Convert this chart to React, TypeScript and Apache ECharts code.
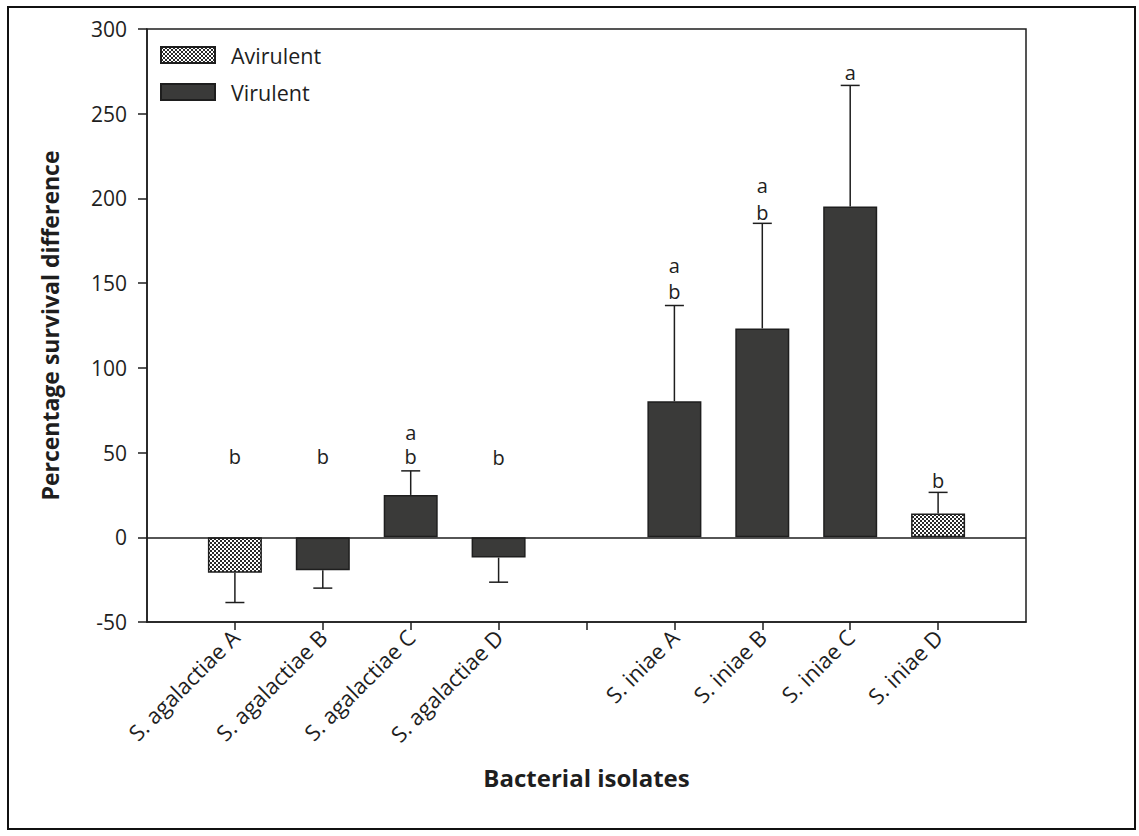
import React, { useEffect, useRef } from "react";
import * as echarts from "echarts";

const categories = [
  "",
  "S. agalactiae A",
  "S. agalactiae B",
  "S. agalactiae C",
  "S. agalactiae D",
  "",
  "S. iniae A",
  "S. iniae B",
  "S. iniae C",
  "S. iniae D",
  "",
];

// bar values (null where the series has no bar)
const avirulentValues = [null, -21, null, null, null, null, null, null, null, 14, null];
const virulentValues = [null, null, -19.5, 25, -12, null, 80.3, 123.3, 195.3, null, null];

// one-sided error bar end points (value at cap)
const errorEnds = [null, -38.5, -30, 39.2, -26.5, null, 136.8, 185.3, 266.7, 26.5, null];

// significance letters: [category index, y position, letter]
const letterIndex = [1, 2, 3, 3, 4, 6, 6, 7, 7, 8, 9];
const letterY = [47.5, 47.5, 62, 47.5, 47.2, 160.6, 145.2, 207.8, 191.7, 274.4, 33.7];
const letterText = ["b", "b", "a", "b", "b", "a", "b", "a", "b", "a", "b"];

const yTicks = { min: -50, max: 300, interval: 50 };

const FONT = "'Open Sans', sans-serif";
const INK = "#1e1e1e";
const BAR = "#3a3a39";

export default function App() {
  const ref = useRef<HTMLDivElement>(null);

  useEffect(() => {
    if (!ref.current) return;
    const chart = echarts.init(ref.current, undefined, { renderer: "svg" });

    const cv = document.createElement("canvas");
    cv.width = 4;
    cv.height = 4;
    const ctx = cv.getContext("2d")!;
    ctx.fillStyle = "#ffffff";
    ctx.fillRect(0, 0, 4, 4);
    ctx.fillStyle = "#2a2a2a";
    ctx.fillRect(0, 0, 2, 2);
    ctx.fillRect(2, 2, 2, 2);
    const pattern: any = { image: cv, repeat: "repeat" };

    const errData = errorEnds
      .map((e, i) => {
        const v = avirulentValues[i] ?? virulentValues[i];
        return e == null || v == null ? null : [i, v, e];
      })
      .filter((d) => d !== null);

    const letterData = letterIndex.map((idx, k) => [idx, letterY[k], letterText[k]]);

    chart.setOption({
      animation: false,
      textStyle: { fontFamily: FONT, color: INK },
      graphic: [
        {
          type: "rect",
          shape: { x: 8, y: 7, width: 1127, height: 822 },
          style: { fill: "none", stroke: "#111", lineWidth: 2 },
          silent: true,
        },
      ],
      legend: {
        data: ["Avirulent", "Virulent"],
        orient: "vertical",
        left: 160,
        top: 44,
        padding: 0,
        itemWidth: 54,
        itemHeight: 16,
        itemGap: 15,
        icon: "rect",
        textStyle: { fontSize: 21.5, fontFamily: FONT, color: INK, padding: [0, 0, 0, 11] },
      },
      grid: {
        left: 147,
        top: 29,
        right: 113,
        bottom: 214,
        show: true,
        borderColor: INK,
        borderWidth: 1.5,
        containLabel: false,
      },
      xAxis: {
        type: "category",
        data: categories,
        boundaryGap: false,
        name: "Bacterial isolates",
        nameLocation: "middle",
        nameGap: 143,
        nameTextStyle: { fontSize: 24, fontWeight: "bold", fontFamily: FONT, color: INK },
        axisLine: { onZero: false, lineStyle: { color: INK, width: 1.5 } },
        axisTick: {
          show: true,
          length: 8,
          interval: (i: number) => i > 0 && i < categories.length - 1,
          lineStyle: { color: INK, width: 1.5 },
        },
        axisLabel: {
          interval: 0,
          rotate: 45,
          margin: 11,
          fontSize: 22,
          fontFamily: FONT,
          color: INK,
        },
        splitLine: { show: false },
      },
      yAxis: {
        type: "value",
        min: yTicks.min,
        max: yTicks.max,
        interval: yTicks.interval,
        name: "Percentage survival difference",
        nameLocation: "middle",
        nameGap: 86,
        nameTextStyle: { fontSize: 23, fontWeight: "bold", fontFamily: FONT, color: INK },
        axisLine: { show: true, lineStyle: { color: INK, width: 1.5 } },
        axisTick: { show: true, length: 9, lineStyle: { color: INK, width: 1.5 } },
        axisLabel: { fontSize: 21, margin: 20, fontFamily: FONT, color: INK },
        splitLine: { show: false },
      },
      series: [
        {
          name: "Avirulent",
          type: "bar",
          data: avirulentValues,
          barWidth: 54,
          barGap: "-100%",
          itemStyle: { color: pattern, borderColor: INK, borderWidth: 1.5 },
          markLine: {
            silent: true,
            symbol: "none",
            label: { show: false },
            lineStyle: { color: INK, width: 1.5, type: "solid" },
            data: [{ yAxis: 0 }],
          },
        },
        {
          name: "Virulent",
          type: "bar",
          data: virulentValues,
          barWidth: 54,
          barGap: "-100%",
          itemStyle: { color: BAR, borderColor: INK, borderWidth: 1.5 },
        },
        {
          type: "custom",
          name: "err",
          data: errData,
          z: 5,
          renderItem: (params: any, api: any) => {
            const x = api.value(0);
            const v = api.value(1);
            const e = api.value(2);
            const p0 = api.coord([x, v]);
            const p1 = api.coord([x, e]);
            const half = 9.5;
            return {
              type: "group",
              children: [
                {
                  type: "line",
                  shape: { x1: p0[0], y1: p0[1], x2: p1[0], y2: p1[1] },
                  style: { stroke: INK, lineWidth: 1.5 },
                },
                {
                  type: "line",
                  shape: { x1: p1[0] - half, y1: p1[1], x2: p1[0] + half, y2: p1[1] },
                  style: { stroke: INK, lineWidth: 1.5 },
                },
              ],
            };
          },
        },
        {
          type: "custom",
          name: "letters",
          data: letterData,
          z: 6,
          renderItem: (params: any, api: any) => {
            const p = api.coord([api.value(0), api.value(1)]);
            return {
              type: "text",
              x: p[0],
              y: p[1],
              style: {
                text: letterText[params.dataIndex],
                fontSize: 20,
                lineHeight: 20,
                fontFamily: FONT,
                fill: INK,
                align: "center",
                verticalAlign: "middle",
              },
            };
          },
        },
      ],
    });

    return () => chart.dispose();
  }, []);

  return (
    <div
      ref={ref}
      style={{ position: "absolute", left: 0, top: 0, width: 1139, height: 836, background: "#fff" }}
    />
  );
}
